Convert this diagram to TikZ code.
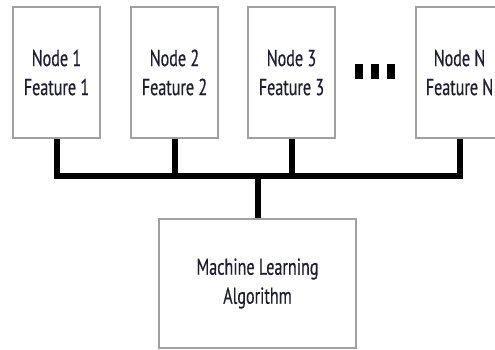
\documentclass[tikz,border=0pt]{standalone}
\usepackage{fontspec}
\newfontfamily\labfont[FakeStretch=0.7,FakeBold=0.4]{PT Sans}
\definecolor{boxgray}{HTML}{A0A0A0}
\definecolor{txt}{HTML}{1E1E30}
\begin{document}
\begin{tikzpicture}[x=1pt,y=-1pt,
  feat/.style={draw=boxgray,line width=1.5pt,fill=white,minimum width=87pt,minimum height=131pt,
    inner sep=0pt,align=center,text=txt,font=\labfont\fontsize{23}{29}\selectfont},
  algo/.style={feat,minimum width=197pt,minimum height=129pt},
  bus/.style={line width=6pt,black,line join=miter,line cap=butt},
  dotbox/.style={fill=black}]
\useasboundingbox (0,0) rectangle (495,349);
\node[feat] (b1) at (56.5,72.5) {Node 1\\Feature 1};
\node[feat] (b2) at (174.5,72.5) {Node 2\\Feature 2};
\node[feat] (b3) at (291.5,72.5) {Node 3\\Feature 3};
\node[feat] (bN) at (459.5,72.5) {Node N\\Feature N};
\node[algo] (ml) at (257.5,283.5) {Machine Learning\\Algorithm};
\coordinate (bus) at (ml.north |- 0,176);
\draw[bus] (b1.south) |- (bus) -| (bN.south);
\draw[bus] (b2.south) -- (b2.south |- bus);
\draw[bus] (b3.south) -- (b3.south |- bus);
\draw[bus] (bus) -- (ml.north);
\fill[dotbox] (355,64) rectangle (363,79);
\fill[dotbox] (371,64) rectangle (379,79);
\fill[dotbox] (387,64) rectangle (395,79);
\end{tikzpicture}
\end{document}
